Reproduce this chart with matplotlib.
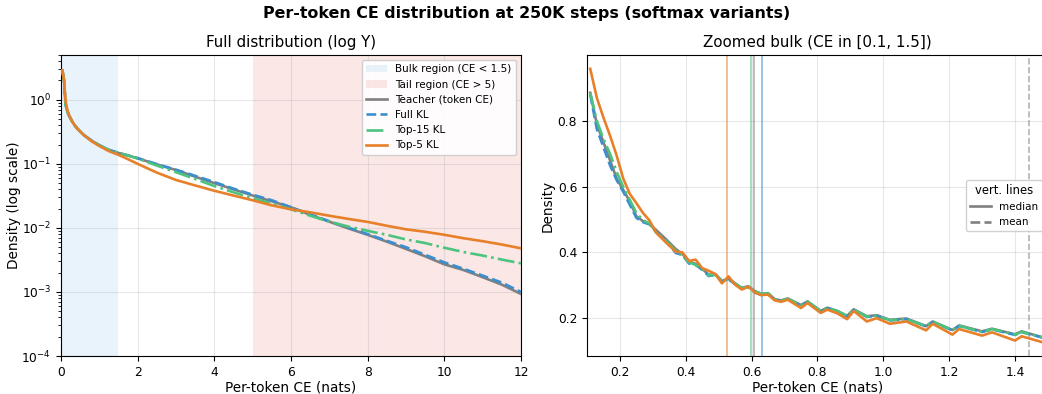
import numpy as np
import matplotlib
matplotlib.use("Agg")
import matplotlib.pyplot as plt
from matplotlib.lines import Line2D

# ---------------- data ----------------
series_names = ["Teacher (token CE)", "Full KL", "Top-15 KL", "Top-5 KL"]

# Full distribution (left panel)
x_full = [0.04, 0.08, 0.12, 0.16, 0.2, 0.3, 0.4, 0.5, 0.6, 0.8, 1.0, 1.25, 1.5, 1.75,
          2.0, 2.5, 3.0, 3.5, 4.0, 4.5, 5.0, 5.5, 6.0, 6.5, 7.0, 7.5, 8.0, 8.5, 9.0,
          9.5, 10.0, 10.5, 11.0, 11.5, 12.0]
teacher_full = [2.8, 2.0, 0.85, 0.68, 0.58, 0.45, 0.37, 0.32, 0.28, 0.23, 0.195, 0.165,
                0.148, 0.135, 0.122, 0.098, 0.080, 0.063, 0.050, 0.040, 0.032, 0.026,
                0.021, 0.016, 0.0125, 0.0098, 0.0078, 0.0061, 0.0047, 0.0036, 0.0027,
                0.0022, 0.0017, 0.0013, 0.00093]
fullkl_full = [2.8, 2.0, 0.85, 0.68, 0.58, 0.45, 0.37, 0.32, 0.28, 0.23, 0.195, 0.165,
               0.148, 0.135, 0.123, 0.099, 0.081, 0.065, 0.052, 0.041, 0.033, 0.027,
               0.021, 0.0163, 0.0127, 0.0101, 0.0080, 0.0063, 0.0050, 0.0038, 0.0029,
               0.0023, 0.0018, 0.0014, 0.0010]
top15_full = [2.8, 2.0, 0.85, 0.68, 0.58, 0.45, 0.37, 0.32, 0.28, 0.23, 0.195, 0.165,
              0.148, 0.135, 0.121, 0.094, 0.074, 0.058, 0.045, 0.036, 0.029, 0.024,
              0.0195, 0.0155, 0.0125, 0.0105, 0.0090, 0.0078, 0.0066, 0.0058, 0.0049,
              0.0042, 0.0037, 0.0032, 0.0028]
top5_full = [2.9, 2.0, 0.95, 0.72, 0.60, 0.45, 0.37, 0.32, 0.28, 0.225, 0.19, 0.158,
             0.138, 0.118, 0.100, 0.073, 0.056, 0.046, 0.038, 0.032, 0.027, 0.0225,
             0.0195, 0.0175, 0.0155, 0.0138, 0.0124, 0.0108, 0.0095, 0.0087, 0.0078,
             0.0069, 0.0062, 0.0055, 0.0048]

# Zoomed bulk (right panel)
x_zoom = [0.11, 0.13, 0.15, 0.17, 0.19, 0.21, 0.23, 0.25, 0.27, 0.29, 0.31, 0.34, 0.37,
          0.39, 0.41, 0.43, 0.45, 0.47, 0.49, 0.51, 0.53, 0.55, 0.57, 0.59, 0.61, 0.63,
          0.65, 0.67, 0.69, 0.71, 0.75, 0.77, 0.81, 0.83, 0.86, 0.89, 0.91, 0.95, 0.98,
          1.02, 1.07, 1.13, 1.15, 1.21, 1.23, 1.30, 1.33, 1.40, 1.42, 1.49]
teacher_zoom = [0.885, 0.79, 0.735, 0.68, 0.625, 0.59, 0.555, 0.51, 0.495, 0.487, 0.468,
                0.44, 0.41, 0.395, 0.372, 0.365, 0.35, 0.332, 0.334, 0.313, 0.32, 0.306,
                0.292, 0.297, 0.282, 0.274, 0.276, 0.258, 0.254, 0.26, 0.24, 0.251,
                0.222, 0.232, 0.222, 0.207, 0.227, 0.206, 0.209, 0.195, 0.199, 0.176,
                0.19, 0.164, 0.178, 0.16, 0.168, 0.151, 0.16, 0.14]
fullkl_zoom = [0.88, 0.775, 0.72, 0.665, 0.62, 0.585, 0.545, 0.505, 0.492, 0.485, 0.462,
               0.435, 0.398, 0.392, 0.366, 0.362, 0.347, 0.328, 0.332, 0.312, 0.318,
               0.303, 0.29, 0.295, 0.278, 0.27, 0.273, 0.255, 0.252, 0.258, 0.238,
               0.249, 0.22, 0.23, 0.22, 0.205, 0.225, 0.204, 0.207, 0.193, 0.197, 0.175,
               0.188, 0.163, 0.176, 0.158, 0.166, 0.149, 0.158, 0.139]
top15_zoom = [0.885, 0.80, 0.745, 0.70, 0.645, 0.60, 0.56, 0.52, 0.498, 0.488, 0.462,
              0.435, 0.405, 0.39, 0.37, 0.362, 0.35, 0.33, 0.332, 0.313, 0.318, 0.305,
              0.292, 0.296, 0.282, 0.274, 0.276, 0.258, 0.254, 0.258, 0.24, 0.25, 0.222,
              0.232, 0.222, 0.207, 0.226, 0.205, 0.207, 0.194, 0.197, 0.176, 0.189,
              0.164, 0.177, 0.158, 0.167, 0.15, 0.158, 0.14]
top5_zoom = [0.958, 0.87, 0.81, 0.755, 0.695, 0.625, 0.578, 0.55, 0.52, 0.497, 0.46,
             0.43, 0.402, 0.40, 0.374, 0.378, 0.352, 0.344, 0.334, 0.306, 0.327, 0.302,
             0.287, 0.296, 0.278, 0.27, 0.272, 0.254, 0.25, 0.256, 0.231, 0.246, 0.216,
             0.226, 0.215, 0.197, 0.222, 0.19, 0.20, 0.183, 0.19, 0.163, 0.183, 0.15,
             0.167, 0.147, 0.157, 0.132, 0.145, 0.125]

medians = [0.608, 0.633, 0.597, 0.524]   # teacher, full, top15, top5
teacher_mean = 1.443

bulk_max = 1.5
tail_min = 5.0

# ---------------- styles ----------------
colors = ["#808080", "#3a8fd0", "#4cc47e", "#e8802a"]
styles = ["-", "--", "-.", "-"]
TICK = 8.8
LABEL = 9.8
TITLE = 10.9
LEG = 7.5

plt.rcParams["xtick.labelsize"] = TICK
plt.rcParams["ytick.labelsize"] = TICK

fig = plt.figure(figsize=(10.42, 3.94), dpi=100)
axL = fig.add_axes([0.0585, 0.0964, 0.4415, 0.764])
axR = fig.add_axes([0.5633, 0.0964, 0.4424, 0.764])

# Left panel
axL.axvspan(0, bulk_max, color="#3498db", alpha=0.11, lw=0, label="Bulk region (CE < 1.5)")
axL.axvspan(tail_min, 12, color="#e74c3c", alpha=0.13, lw=0, label="Tail region (CE > 5)")
full_data = [teacher_full, fullkl_full, top15_full, top5_full]
order = [0, 1, 2, 3]
for i in order:
    axL.plot(x_full, full_data[i], color=colors[i], ls=styles[i], lw=1.9,
             label=series_names[i], zorder=3 + (1 if i == 3 else 0))
axL.set_yscale("log")
axL.set_xlim(0, 12)
axL.set_ylim(1e-4, 5)
axL.set_xticks([0, 2, 4, 6, 8, 10, 12])
axL.grid(True, alpha=0.3)
axL.set_xlabel("Per-token CE (nats)", fontsize=LABEL, labelpad=1.0)
axL.set_ylabel("Density (log scale)", fontsize=LABEL, labelpad=0.5)
axL.set_title("Full distribution (log Y)", fontsize=TITLE)
axL.legend(loc="upper right", fontsize=LEG, framealpha=0.9)

# Right panel
zoom_data = [teacher_zoom, fullkl_zoom, top15_zoom, top5_zoom]
for i in order:
    axR.plot(x_zoom, zoom_data[i], color=colors[i], ls=styles[i], lw=1.9,
             zorder=3 + (1 if i == 3 else 0))
for i in order:
    axR.axvline(medians[i], color=colors[i], ls="-", lw=1.2, alpha=0.6, zorder=2)
axR.axvline(teacher_mean, color=colors[0], ls="--", lw=1.2, alpha=0.6, zorder=2)
axR.set_xlim(0.1, 1.5)
axR.set_ylim(0.085, 1.0)
axR.set_xticks([0.2, 0.4, 0.6, 0.8, 1.0, 1.2, 1.4])
axR.set_yticks([0.2, 0.4, 0.6, 0.8])
axR.grid(True, alpha=0.3)
axR.set_xlabel("Per-token CE (nats)", fontsize=LABEL, labelpad=1.0)
axR.set_ylabel("Density", fontsize=LABEL, labelpad=2.5)
axR.set_title("Zoomed bulk (CE in [0.1, 1.5])", fontsize=TITLE)
handles = [Line2D([], [], color="#808080", ls="-", lw=1.9),
           Line2D([], [], color="#808080", ls="--", lw=1.9)]
axR.legend(handles, ["median", "mean"], title="vert. lines", loc="center right",
           fontsize=LEG, title_fontsize=8.4, framealpha=0.9)

fig.suptitle("Per-token CE distribution at 250K steps (softmax variants)",
             fontsize=11.4, fontweight="bold", x=0.5058, y=0.985)

fig.savefig("out.png", dpi=100)
